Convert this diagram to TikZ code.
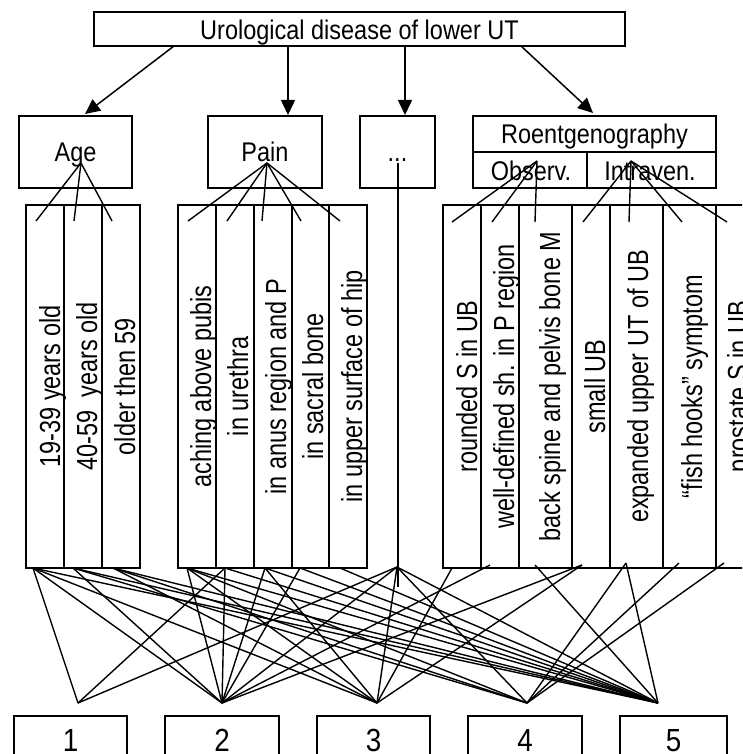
\documentclass[tikz,border=0pt]{standalone}
\usepackage{fontspec}
\setmainfont[FakeStretch=0.87]{Liberation Sans}
\newfontfamily\vfont[FakeStretch=0.81]{Liberation Sans}
\usetikzlibrary{arrows.meta}
\begin{document}
\begin{tikzpicture}[x=1pt,y=-1pt,
  box/.style={draw, line width=1.9pt, inner sep=0pt, outer sep=0pt},
  conn/.style={line width=1.4pt},
  arr/.style={line width=1.5pt, -{Triangle[length=15pt,width=14pt]}},
  htext/.style={inner sep=0pt, anchor=base, font=\fontsize{27}{30}\selectfont},
  vtext/.style={inner sep=0pt, anchor=base, rotate=90, font=\vfont\fontsize{29}{32}\selectfont},
  dtext/.style={inner sep=0pt, anchor=base, font=\fontsize{32}{36}\selectfont},
]
\useasboundingbox (0,0) rectangle (742,754);
\clip (0,0) rectangle (742,754);
\fill[white] (0,0) rectangle (742,754);

% ---------- top level ----------
\node[box, minimum width=531pt, minimum height=34pt] (top) at (359.5,29) {};
\node[htext] (toptxt) at (359.5,40) {Urological disease of lower UT};

\node[box, minimum width=113pt, minimum height=72pt] (age) at (75.5,152) {};
\node[htext] (agetxt) at (75.5,161) {Age};
\node[box, minimum width=114pt, minimum height=72pt] (pain) at (265,152) {};
\node[htext] (paintxt) at (265,161.5) {Pain};
\node[box, minimum width=75pt, minimum height=72pt] (dots) at (397.5,152) {};
\node[htext] (dotstxt) at (397.5,161) {...};
\node[box, minimum width=243pt, minimum height=36pt] (roent) at (594.5,134) {};
\node[box, minimum width=114pt, minimum height=36pt] (obs) at (530,170) {};
\node[box, minimum width=129pt, minimum height=36pt] (intra) at (651.5,170) {};
\node[htext] (roenttxt) at (594.5,144) {Roentgenography};
\node[htext] (obstxt) at (531,181) {Observ.};
\node[htext] (intratxt) at (650,181) {Intraven.};

% arrows from top box
\coordinate (ta1) at (174,46);  \coordinate (ha1) at (85,114);
\coordinate (ta2) at (288,46);  \coordinate (ha2) at (288,115);
\coordinate (ta3) at (405,46);  \coordinate (ha3) at (405,115);
\coordinate (ta4) at (521,46);  \coordinate (ha4) at (593,113);
\draw[arr] (ta1) -- (ha1);
\draw[arr] (ta2) -- (ha2);
\draw[arr] (ta3) -- (ha3);
\draw[arr] (ta4) -- (ha4);

% ---------- columns ----------
\foreach \n/\l/\r in {a1/26/64, a2/64/102, a3/102/140,
                      p1/178/216, p2/216/254, p3/254/292, p4/292/329, p5/329/367,
                      r1/443/481, r2/481/519, r3/519/572, r4/572/610, r5/610/663, r6/663/716, r7/716/769}
  \node[box, minimum width={\r-\l}, minimum height=363pt] (c\n) at ({(\l+\r)/2},386.5) {};

\node[vtext] (ta1t) at (60,386.5)  {19-39 years old};
\node[vtext] (ta2t) at (97,386.5)  {40-59\ \ years old};
\node[vtext] (ta3t) at (135,386.5) {older then 59};
\node[vtext] (tp1t) at (211,386.5) {aching above pubis};
\node[vtext] (tp2t) at (248,386.5) {in urethra};
\node[vtext] (tp3t) at (286,386.5) {in anus region and P};
\node[vtext] (tp4t) at (323,386.5) {in sacral bone};
\node[vtext] (tp5t) at (362,386.5) {in upper surface of hip};
\node[vtext] (tr1t) at (477,386.5) {rounded S in UB};
\node[vtext] (tr2t) at (514,386.5) {well-defined sh. in P region};
\node[vtext] (tr3t) at (560,386.5) {back spine and pelvis bone M};
\node[vtext] (tr4t) at (605,386.5) {small UB};
\node[vtext] (tr5t) at (648,386.5) {expanded upper UT of UB};
\node[vtext] (tr6t) at (702,386.5) {“fish hooks” symptom};
\node[vtext] (tr7t) at (748,386.5) {prostate S in UB};

% ---------- fans from category boxes ----------
\coordinate (fage) at (81,163);
\coordinate (fpain) at (267,163);
\coordinate (fobs) at (537,161);
\coordinate (fint) at (631,161);
\foreach \x in {36,74,112} \draw[conn] (fage) -- (\x,221);
\foreach \x in {188,227,262,301,340} \draw[conn] (fpain) -- (\x,221);
\foreach \x in {452,492,535} \draw[conn] (fobs) -- (\x,222);
\foreach \x in {583,629,682,727} \draw[conn] (fint) -- (\x,222);

% dots column line
\coordinate (dtop) at (398,163);
\coordinate (dbot) at (398,587);
\draw[line width=1.3pt] (dtop) -- (dbot);

% ---------- bottom start points ----------
\coordinate (A1) at (33,568);
\coordinate (A2) at (73,568);
\coordinate (A3) at (113,568);
\coordinate (N1) at (187,568);
\coordinate (N2) at (225,568);
\coordinate (N3) at (265,568);
\coordinate (N4) at (300,568);
\coordinate (N5) at (340,568);
\coordinate (D)  at (397,567);
\coordinate (R1) at (452,568);
\coordinate (R2) at (490,565);
\coordinate (R3) at (535,565);
\coordinate (R4) at (582,565);
\coordinate (R5) at (626,563);
\coordinate (R6) at (679,563);
\coordinate (R7) at (724,563);

\coordinate (P1) at (78,703);
\coordinate (P2) at (222,703);
\coordinate (P3) at (377,703);
\coordinate (P4) at (527,703);
\coordinate (P5) at (658,703);

\foreach \s/\t in {A1/P1, N2/P1, D/P1,
                   A1/P2, A2/P2, N1/P2, N2/P2, N3/P2, N4/P2, D/P2, R2/P2, R4/P2,
                   A1/P3, A3/P3, N1/P3, N3/P3, D/P3, R1/P3, R4/P3,
                   A2/P4, A3/P4, N1/P4, D/P4, R5/P4, R6/P4, R7/P4,
                   A1/P5, A2/P5, A3/P5, N1/P5, N2/P5, N3/P5, N4/P5, N5/P5, D/P5, R3/P5, R5/P5}
  \draw[conn] (\s) -- (\t);

% ---------- bottom boxes ----------
\node[box, minimum width=113pt, minimum height=56pt] (d1) at (70.5,744) {};
\node[box, minimum width=114pt, minimum height=56pt] (d2) at (222,744) {};
\node[box, minimum width=113pt, minimum height=56pt] (d3) at (373.5,744) {};
\node[box, minimum width=114pt, minimum height=56pt] (d4) at (525,744) {};
\node[box, minimum width=107pt, minimum height=56pt] (d5) at (673.5,744) {};
\node[dtext] (d1t) at (70.5,751) {1};
\node[dtext] (d2t) at (222,751) {2};
\node[dtext] (d3t) at (373.5,751) {3};
\node[dtext] (d4t) at (525,751) {4};
\node[dtext] (d5t) at (673.5,751) {5};
\end{tikzpicture}
\end{document}
